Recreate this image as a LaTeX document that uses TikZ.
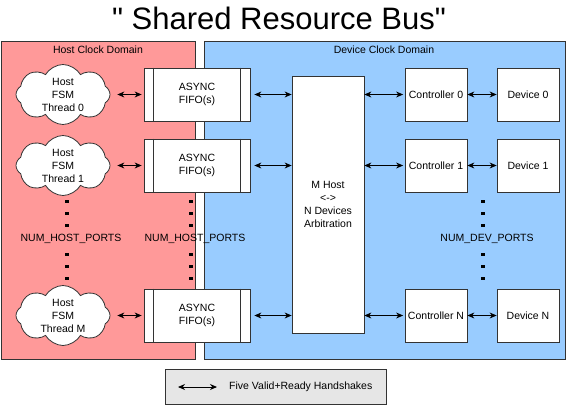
\documentclass[tikz,border=0pt]{standalone}
\usepackage{fontspec}
\setmainfont{Liberation Sans}
\newfontfamily\titlefont{Liberation Sans}[Ligatures=TeXOff]
\usetikzlibrary{shapes.symbols,arrows.meta}
\definecolor{hostred}{HTML}{FF9999}
\definecolor{devblue}{HTML}{99CCFF}
\definecolor{edgegray}{HTML}{333333}
\definecolor{legendgray}{HTML}{E6E6E6}
\begin{document}
\begin{tikzpicture}[x=1pt,y=-1pt,
  font=\fontsize{10.5}{13}\selectfont,
  region/.style={draw=edgegray, line width=1pt, minimum height=318pt, inner sep=0pt, anchor=north west},
  box/.style={draw=edgegray, fill=white, line width=0.8pt, minimum width=62pt, minimum height=53pt, inner sep=0pt, align=center},
  fifo/.style={box, minimum width=106pt},
  cloudshape/.style={cloud, cloud puffs=8, cloud puff arc=120, draw=edgegray, fill=white, line width=0.8pt, minimum width=94pt, minimum height=60pt, inner sep=0pt, aspect=1.57},
  cloudtext/.style={align=center, inner sep=0pt},
  conn/.style={{Stealth[length=7pt,width=6pt]}-{Stealth[length=7pt,width=6pt]}, line width=0.9pt, black},
  dotsq/.style={fill=black},
  portlabel/.style={inner sep=0pt}]
\useasboundingbox (0,0) rectangle (568,405);

% title
\node[anchor=base, inner sep=0pt] (title) at (279,29) {\titlefont\fontsize{31}{34}\selectfont " Shared Resource Bus"};

% clock domains
\node[region, fill=hostred, minimum width=194pt] (hostdom) at (1,41) {};
\node[region, fill=devblue, minimum width=361pt] (devdom) at (204,41) {};
\node[inner sep=0pt] (hostlbl) at (98,50) {Host Clock Domain};
\node[inner sep=0pt] (devlbl) at (384,50) {Device Clock Domain};

% clouds
\foreach \n/\y/\t in {0/94.5/0, 1/165.5/1, m/315.5/M} {
  \node[cloudshape] (h\n) at (63,\y) {};
  \node[cloudtext] (ht\n) at (63,\y) {Host\\FSM\\Thread \t};
}

% fifos, controllers, devices
\foreach \n/\y/\t in {0/94.5/0, 1/165.5/1, m/315.5/N} {
  \node[fifo] (f\n) at (197,\y) {ASYNC\\FIFO(s)};
  \draw[edgegray, line width=0.8pt] ([xshift=10pt]f\n.north west) -- ([xshift=10pt]f\n.south west);
  \draw[edgegray, line width=0.8pt] ([xshift=-10pt]f\n.north east) -- ([xshift=-10pt]f\n.south east);
  \node[box] (c\n) at (436,\y) {Controller \t};
  \node[box] (d\n) at (528,\y) {Device \t};
}

% arbitration
\node[box, minimum width=72pt, minimum height=257pt] (arb) at (328,204.5) {M Host\\<->\\N Devices\\Arbitration};

% connectors
\foreach \n in {0,1,m} {
  \draw[conn, shorten <=7pt, shorten >=2pt] (h\n.east) -- (f\n.west);
  \draw[conn, shorten <=4pt] (f\n.east) -- (f\n.east -| arb.west);
  \draw[conn, shorten >=1.5pt] (arb.east |- c\n.west) -- (c\n.west);
  \draw[conn] (c\n.east) -- (d\n.west);
}

% dots
\foreach \x in {67,191,483} {
  \foreach \y in {201.5,213.5,225.5,254.5,266.5,278.5} {
    \fill[dotsq] (\x-1.6,\y-1.6) rectangle (\x+1.6,\y+1.6);
  }
}
\node[portlabel] (hp1) at (71,239) {NUM\_HOST\_PORTS};
\node[portlabel] (hp2) at (195,239) {NUM\_HOST\_PORTS};
\node[portlabel] (dp) at (487,239) {NUM\_DEV\_PORTS};

% legend
\node[draw=edgegray, fill=legendgray, line width=0.8pt, minimum width=221pt, minimum height=35pt, anchor=north west, inner sep=0pt] (legend) at (165,369) {};
\coordinate (la) at (178,387);
\coordinate (lb) at (217,387);
\draw[conn] (la) -- (lb);
\node[anchor=west, inner sep=0pt] (legtext) at (229,387) {Five Valid+Ready Handshakes};
\end{tikzpicture}
\end{document}
